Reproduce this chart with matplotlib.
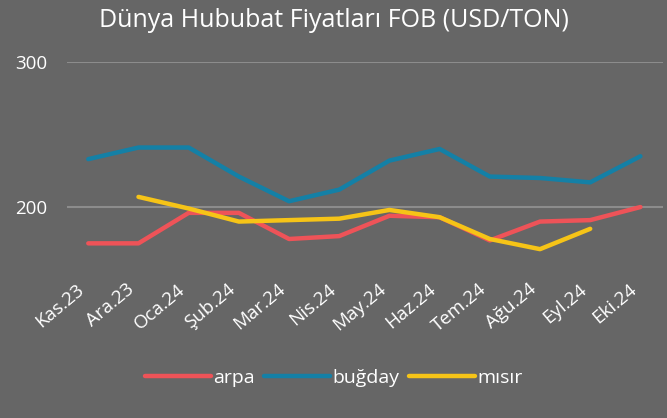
import matplotlib
matplotlib.use("Agg")
import matplotlib.pyplot as plt
import matplotlib.transforms as mtransforms
import numpy as np

# Monthly FOB grain prices, USD/ton
months = ["Kas.23", "Ara.23", "Oca.24", "Şub.24", "Mar.24", "Nis.24",
          "May.24", "Haz.24", "Tem.24", "Ağu.24", "Eyl.24", "Eki.24"]
arpa = [175, 175, 196, 196, 178, 180, 194, 193, 177, 190, 191, 200]
bugday = [233, 241, 241, 221, 204, 212, 232, 240, 221, 220, 217, 235]
misir = [np.nan, 207, 199, 190, 191, 192, 198, 193, 178, 171, 185, np.nan]

bg = "#666666"
plt.rcParams["font.family"] = ["Open Sans", "DejaVu Sans"]

fig = plt.figure(figsize=(6.67, 4.18), dpi=100, facecolor=bg)
ax = fig.add_axes([0.100, 0.331, 0.894, 0.521], facecolor=bg)

x = np.arange(len(months))
ax.plot(x, arpa, color="#EE5358", lw=3.2, solid_capstyle="round", solid_joinstyle="round", label="arpa", zorder=3)
ax.plot(x, bugday, color="#1480A6", lw=3.2, solid_capstyle="round", solid_joinstyle="round", label="buğday", zorder=3)
ax.plot(x, misir, color="#F6C417", lw=3.2, solid_capstyle="round", solid_joinstyle="round", label="mısır", zorder=4)

ax.set_ylim(150, 300)
ax.set_xlim(-0.43, 11.45)
ax.set_yticks([200, 300])
for yv in [200, 300]:
    ax.axhline(yv, color="#8C8C8C", lw=1.5, zorder=1)

ax.set_xticks(x)
ax.set_xticklabels(months, rotation=40, ha="right", rotation_mode="anchor")
ax.tick_params(axis="both", length=0, colors="white", labelsize=13.5)
ax.tick_params(axis="x", pad=4)
ax.tick_params(axis="y", pad=14)
# nudge the slanted month labels up and to the left
shift = mtransforms.ScaledTranslation(-12 / 100, 5 / 100, fig.dpi_scale_trans)
for lbl in ax.get_xticklabels():
    lbl.set_transform(lbl.get_transform() + shift)
for s in ax.spines.values():
    s.set_visible(False)

fig.suptitle("Dünya Hububat Fiyatları FOB (USD/TON)", color="white", fontsize=18, y=0.98)

leg = fig.legend(loc="center", bbox_to_anchor=(0.5, 0.095), ncol=3, frameon=False,
                 fontsize=14, handlelength=3.4, handletextpad=0.1, columnspacing=0.5)
for t in leg.get_texts():
    t.set_color("white")

fig.savefig("out.png", dpi=100, facecolor=bg)
